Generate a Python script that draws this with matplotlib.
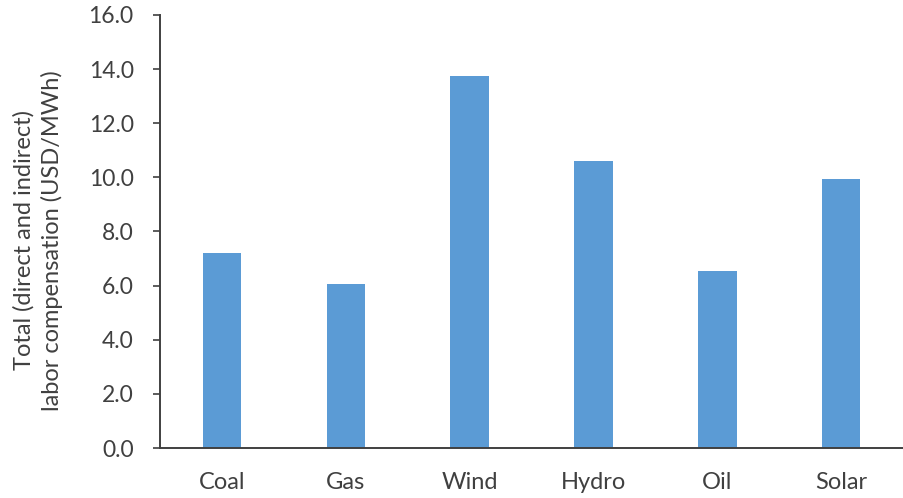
import matplotlib
matplotlib.use('Agg')
import matplotlib.pyplot as plt
import numpy as np

plt.rcParams['font.family'] = ['Lato', 'DejaVu Sans']

sources = ['Coal', 'Gas', 'Wind', 'Hydro', 'Oil', 'Solar']
compensation = [7.2, 6.05, 13.75, 10.6, 6.55, 9.95]

fig = plt.figure(figsize=(9.04, 4.98), dpi=100)
ax = fig.add_axes([0.177, 0.1004, 0.822, 0.8696])

x = np.arange(len(sources))
ax.bar(x, compensation, width=0.31, color='#5B9BD5', zorder=2)

ax.set_xlim(-0.5, len(sources) - 0.5)
ax.set_ylim(0, 16)
yt = np.arange(0, 16.1, 2)
ax.set_yticks(yt)
ax.set_yticklabels(['{:.1f}'.format(v) for v in yt])
ax.set_xticks(x)
ax.set_xticklabels(sources)

txt = '#404040'
ax.tick_params(axis='y', length=5, width=1.2, color='#404040', labelsize=16.5, labelcolor=txt, pad=14)
ax.tick_params(axis='x', length=0, labelsize=17, labelcolor=txt, pad=17)

for s in ['top', 'right']:
    ax.spines[s].set_visible(False)
for s in ['left', 'bottom']:
    ax.spines[s].set_color('#404040')
    ax.spines[s].set_linewidth(1.4)

ax.set_ylabel('Total (direct and indirect)\nlabor compensation (USD/MWh)',
              fontsize=17, color=txt, linespacing=1.35)
ax.yaxis.set_label_coords(-0.13, 0.48)

fig.savefig('out.png', dpi=100)
